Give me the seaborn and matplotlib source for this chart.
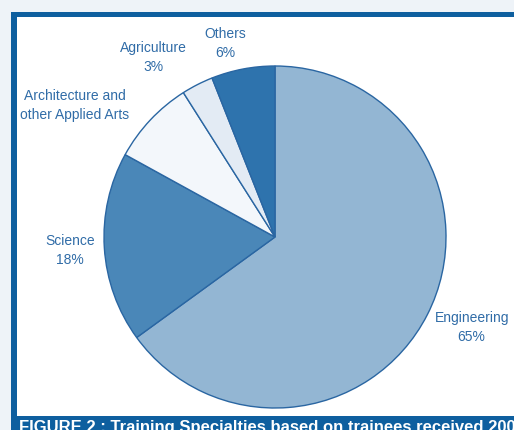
import matplotlib
matplotlib.use("Agg")
import matplotlib.pyplot as plt
import seaborn as sns
from matplotlib.patches import Rectangle

specialties = ["Engineering", "Science", "Architecture and\nother Applied Arts", "Agriculture", "Others"]
shares = [65, 18, 8, 3, 6]
shown_pct = ["65%", "18%", "", "3%", "6%"]
colors = ["#93b6d3", "#4a87b8", "#f3f7fb", "#e3ebf4", "#2e73ad"]
caption = "FIGURE 2 : Training Specialties based on trainees received 2005"

sns.set_theme(style="white")
plt.rcParams["font.family"] = ["Liberation Sans", "DejaVu Sans"]

W, H = 514, 430
fig = plt.figure(figsize=(W / 100, H / 100), dpi=100, facecolor="#eef3f8")

# frame: blue border, white panel, caption band
frame_blue = "#0e5f9f"
fig.patches.append(Rectangle((11 / W, 0), 1, (H - 12) / H, transform=fig.transFigure,
                             facecolor=frame_blue, edgecolor="none", zorder=-2))
fig.patches.append(Rectangle((17 / W, (H - 416) / H), 1, (416 - 17) / H, transform=fig.transFigure,
                             facecolor="white", edgecolor="none", zorder=-1))

cx, cy, r = 275, 237, 171
ax = fig.add_axes([(cx - r) / W, (H - cy - r) / H, 2 * r / W, 2 * r / H])
ax.set_zorder(2)
ax.set_facecolor("none")
wedges, _ = ax.pie(shares, colors=colors, startangle=90, counterclock=False,
                   wedgeprops=dict(edgecolor="#2a66a2", linewidth=1.0))
ax.set_xlim(-1, 1)
ax.set_ylim(-1, 1)
ax.set_aspect("equal")
ax.axis("off")

label_pos = [(1.15, -0.53), (-1.20, -0.08), (-1.17, 0.77), (-0.71, 1.05), (-0.29, 1.13)]
for name, pct, (lx, ly) in zip(specialties, shown_pct, label_pos):
    txt = name if not pct else f"{name}\n{pct}"
    ax.text(lx, ly, txt, ha="center", va="center", fontsize=10, color="#306ca7",
            linespacing=1.45, clip_on=False)

fig.text(19 / W, (H - 435) / H, caption, ha="left", va="bottom", fontsize=12,
         fontweight="bold", color="white", zorder=3)

fig.savefig("out.png", dpi=100, facecolor=fig.get_facecolor())
